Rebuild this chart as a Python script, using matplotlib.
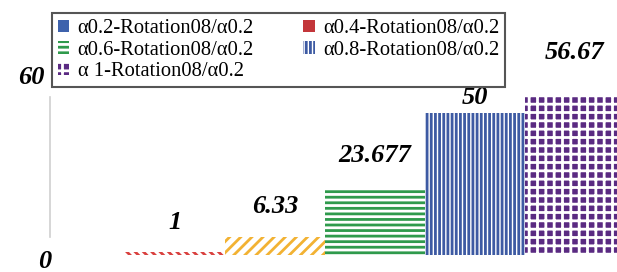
import matplotlib
matplotlib.use('Agg')
import matplotlib.pyplot as plt
import matplotlib.transforms as mtransforms
from matplotlib.patches import Patch


CATEGORIES = [
    'α0.2-Rotation08/α0.2',
    'α0.4-Rotation08/α0.2',
    'α0.6-Rotation08/α0.2',
    'α0.8-Rotation08/α0.2',
    'α 1-Rotation08/α0.2',
]
VALUES = [0, 1, 6.33, 23.677, 50, 56.67]
Y_TICKS = [0, 60]

# one entry per bar: (face, hatch colour, hatch)
STYLES = [
    ('#3e62ac', '#3e62ac', None),
    ('white', '#d9413f', '\\\\\\\\'),
    ('white', '#f2b233', '///'),
    ('white', '#2f9a4c', '---'),
    ('white', '#3d5aa3', '||||'),
    ('#5a2a82', 'white', '++'),
]
LEGEND_FACE = ['#3e62ac', '#c3363a', None, None, None, None]
LABEL_GAP_PT = [0, 13, 14, 15, 3, 22]

plt.rcParams['font.family'] = ['Liberation Serif', 'DejaVu Serif']
plt.rcParams['hatch.linewidth'] = 2.0

fig = plt.figure(figsize=(6.17, 2.72), dpi=100)
ax = fig.add_axes([50 / 617, 0, 1 - 50 / 617, 1])

x = list(range(len(VALUES)))
for i, v in enumerate(VALUES):
    face, hc, hatch = STYLES[i]
    ax.bar(x[i], v, width=1.0, color=face, edgecolor=hc, hatch=hatch,
           linewidth=0)

for i, v in enumerate(VALUES):
    if v == 0:
        continue
    ax.annotate(f'{v:g}', (x[i], v), xytext=(0, LABEL_GAP_PT[i]),
                textcoords='offset points', ha='center', va='bottom',
                fontsize=19, fontweight='bold', fontstyle='italic')

ax.set_xlim(-0.25, 5.42)
ax.set_ylim(-6.0, 90.1)
ax.set_xticks([])
ax.set_yticks(Y_TICKS)
ax.set_yticklabels([str(t) for t in Y_TICKS], fontsize=19,
                   fontweight='bold', fontstyle='italic')
ax.tick_params(axis='y', length=0, pad=4)
for lab, dx, dy in zip(ax.get_yticklabels(), [0.07, 0.0], [-0.035, 0.10]):
    lab.set_transform(lab.get_transform() +
                      mtransforms.ScaledTranslation(dx, dy, fig.dpi_scale_trans))

for s in ['top', 'right', 'bottom']:
    ax.spines[s].set_visible(False)
ax.spines['left'].set_color('#cfcfcf')
ax.spines['left'].set_linewidth(1.2)
ax.spines['left'].set_bounds(6.4, 55.8)

# legend proxies: first slot solid blue, second solid red, rest like the bars
leg_handles = []
for i in range(1, len(VALUES)):
    face, hc, hatch = STYLES[i]
    lf = LEGEND_FACE[i - 1]
    if lf is not None:
        leg_handles.append(Patch(facecolor=lf, edgecolor=lf, linewidth=0))
    else:
        leg_handles.append(Patch(facecolor=face, edgecolor=hc, hatch=hatch, linewidth=0))

# matplotlib fills columns first, so reorder to read row by row
order = [0, 2, 4, 1, 3]
leg = fig.legend([leg_handles[k] for k in order], [CATEGORIES[k] for k in order],
                 ncol=2, loc='upper left',
                 bbox_to_anchor=(52 / 617, 1 - 13 / 272),
                 bbox_transform=fig.transFigure, borderaxespad=0,
                 fontsize=14.8, handlelength=0.55, handleheight=0.55,
                 handletextpad=0.4, labelspacing=0.12, columnspacing=2.4,
                 borderpad=0.3, fancybox=False, framealpha=1,
                 edgecolor='#555555')
leg.get_frame().set_linewidth(1.5)

fig.savefig('out.png', dpi=100)
